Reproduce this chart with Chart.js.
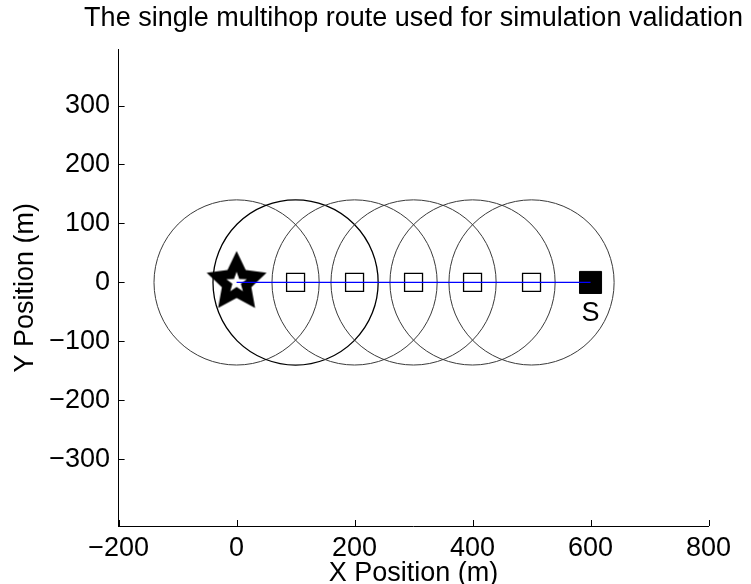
<!DOCTYPE html>
<html><head><meta charset="utf-8">
<script src="https://cdn.jsdelivr.net/npm/chart.js@4/dist/chart.umd.min.js"></script>
<style>html,body{margin:0;padding:0;background:#fff}canvas{display:block}</style>
</head><body>
<canvas id="c" width="751" height="584"></canvas>
<script>
const TITLE = 'The single multihop route used for simulation validation';
const X_LABEL = 'X Position (m)';
const Y_LABEL = 'Y Position (m)';
const X_TICKS = [-200, 0, 200, 400, 600, 800];
const Y_TICKS = [-300, -200, -100, 0, 100, 200, 300];
const X_RANGE = [-200, 800];
const Y_RANGE = [-413, 395];
const ROUTE_X = [0, 100, 200, 300, 400, 500, 600];
const ROUTE_Y = [0, 0, 0, 0, 0, 0, 0];
const RELAY_X = [100, 200, 300, 400, 500];
const RELAY_Y = [0, 0, 0, 0, 0];
const DEST_X = [0];
const DEST_Y = [0];
const SOURCE_X = [600];
const SOURCE_Y = [0];
const CIRCLE_X = [0, 100, 200, 300, 400, 500];
const CIRCLE_Y = [0, 0, 0, 0, 0, 0];
const TX_RANGE = 140;
const SOURCE_LABEL = 'S';
const SOURCE_LABEL_POS = [600, -52];

const FONT = '"Liberation Sans", Arial, Helvetica, sans-serif';
const pts = (xs, ys) => xs.map((x, i) => ({x, y: ys[i]}));
const fmt = v => v < 0 ? '\u2212' + Math.abs(v) : String(v);

function starCanvas(R, r, Rw, rw) {
  const size = 2 * Math.ceil(R + 2);
  const c = document.createElement('canvas');
  c.width = size; c.height = size;
  const g = c.getContext('2d');
  const cx = size / 2, cy = size / 2;
  function path(Ro, Ri) {
    g.beginPath();
    for (let i = 0; i < 10; i++) {
      const a = -Math.PI / 2 + i * Math.PI / 5;
      const rr = i % 2 ? Ri : Ro;
      g.lineTo(cx + rr * Math.cos(a), cy + rr * Math.sin(a));
    }
    g.closePath();
  }
  path(R, r); g.fillStyle = '#000'; g.fill();
  path(Rw, rw); g.fillStyle = '#fff'; g.fill();
  return c;
}
const STAR = starCanvas(31.5, 15.5, 10.8, 4.4);

const decor = {
  id: 'decor',
  afterDraw(chart) {
    const {ctx, scales: {x, y}, chartArea: a} = chart;
    ctx.save();
    ctx.strokeStyle = '#000';
    ctx.lineWidth = 1;
    x.ticks.forEach(t => {
      const px = Math.round(x.getPixelForValue(t.value)) + 0.5;
      ctx.beginPath(); ctx.moveTo(px, a.bottom); ctx.lineTo(px, a.bottom - 6); ctx.stroke();
    });
    y.ticks.forEach(t => {
      const py = Math.round(y.getPixelForValue(t.value)) + 0.5;
      ctx.beginPath(); ctx.moveTo(a.left, py); ctx.lineTo(a.left + 6, py); ctx.stroke();
    });
    ctx.fillStyle = '#000';
    ctx.font = '27px ' + FONT;
    ctx.textAlign = 'center';
    ctx.textBaseline = 'middle';
    ctx.fillText(SOURCE_LABEL, x.getPixelForValue(SOURCE_LABEL_POS[0]), y.getPixelForValue(SOURCE_LABEL_POS[1]));
    ctx.fillText(TITLE, (a.left + a.right) / 2, 19);
    ctx.restore();
  }
};

const rangeRadius = ctx => {
  const s = ctx.chart.scales.x;
  return Math.abs(s.getPixelForValue(TX_RANGE) - s.getPixelForValue(0));
};

new Chart(document.getElementById('c'), {
  type: 'scatter',
  data: {
    datasets: [
      {
        label: 'route', data: pts(ROUTE_X, ROUTE_Y), showLine: true,
        borderColor: '#0000ff', borderWidth: 1.3, pointRadius: 0, pointHoverRadius: 0, order: 0
      },
      {
        label: 'source', data: pts(SOURCE_X, SOURCE_Y), pointStyle: 'rect',
        pointRadius: 15.6, pointHoverRadius: 15.6, pointBackgroundColor: '#000', pointBorderColor: '#000',
        pointBorderWidth: 1, order: 1
      },
      {
        label: 'relays', data: pts(RELAY_X, RELAY_Y), pointStyle: 'rect',
        pointRadius: 12.7, pointHoverRadius: 12.7, pointBackgroundColor: 'rgba(0,0,0,0)', pointBorderColor: '#000',
        pointBorderWidth: 1.3, order: 1
      },
      {
        label: 'destination', data: pts(DEST_X, DEST_Y), pointStyle: STAR,
        pointRadius: 31, order: 2
      },
      {
        label: 'range', data: pts(CIRCLE_X, CIRCLE_Y), pointStyle: 'circle',
        pointRadius: rangeRadius, pointHoverRadius: rangeRadius,
        pointBackgroundColor: 'rgba(0,0,0,0)',
        pointBorderColor: ctx => ctx.dataIndex === 1 ? '#000' : '#3a3a3a',
        pointBorderWidth: ctx => ctx.dataIndex === 1 ? 1.3 : 1,
        pointHoverBorderWidth: ctx => ctx.dataIndex === 1 ? 1.3 : 1,
        order: 3
      }
    ]
  },
  options: {
    responsive: false,
    devicePixelRatio: 1,
    animation: false,
    events: [],
    layout: {padding: {left: 0, right: 42.5, top: 49.5, bottom: 0}},
    plugins: {
      legend: {display: false},
      tooltip: {enabled: false},
      title: {display: false}
    },
    scales: {
      x: {
        type: 'linear', min: X_RANGE[0], max: X_RANGE[1],
        afterBuildTicks: s => { s.ticks = X_TICKS.map(v => ({value: v})); },
        afterFit: s => { s.height = 58; },
        grid: {display: false, drawTicks: false},
        border: {display: true, color: '#000', width: 1},
        ticks: {color: '#000', padding: 9, maxRotation: 0, autoSkip: false,
          font: {family: FONT, size: 27, lineHeight: 1}, callback: v => fmt(v)},
        title: {display: true, text: X_LABEL, color: '#000',
          font: {family: FONT, size: 27, lineHeight: 1}, padding: {top: 0, bottom: -3.5}}
      },
      y: {
        type: 'linear', min: Y_RANGE[0], max: Y_RANGE[1],
        afterBuildTicks: s => { s.ticks = Y_TICKS.map(v => ({value: v})); },
        afterFit: s => { s.width = 118.6; },
        grid: {display: false, drawTicks: false},
        border: {display: true, color: '#000', width: 1},
        ticks: {color: '#000', padding: 8.6, autoSkip: false,
          font: {family: FONT, size: 27, lineHeight: 1.2}, callback: v => fmt(v)},
        title: {display: true, text: Y_LABEL, color: '#000',
          font: {family: FONT, size: 27, lineHeight: 1.2}, padding: {top: 9.6, bottom: 0}}
      }
    }
  },
  plugins: [decor]
});
</script>
</body></html>
